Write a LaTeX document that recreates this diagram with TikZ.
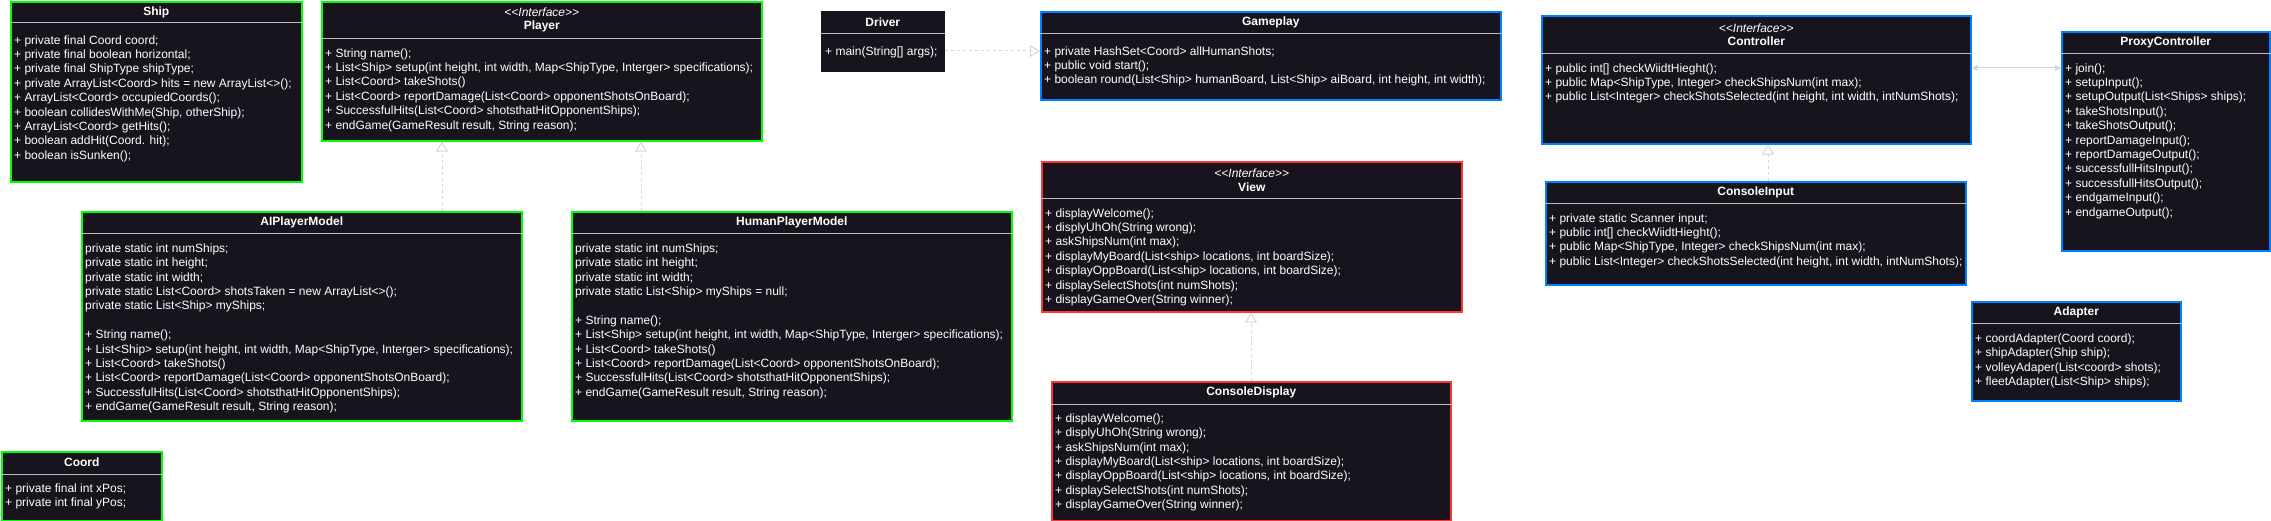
\documentclass[tikz,border=0pt]{standalone}
\usepackage{fontspec}
\usepackage{xcolor}
\usepackage{tikz}
\usetikzlibrary{calc,arrows.meta}
\newfontfamily\umlfont{Liberation Sans}
\definecolor{boxbg}{HTML}{18141D}
\definecolor{sepgray}{HTML}{BDBDBD}
\definecolor{linegray}{HTML}{D6D6D6}
\definecolor{greenLine}{HTML}{00FF00}
\definecolor{blueLine}{HTML}{007FFF}
\definecolor{redLine}{HTML}{FF3333}
\tikzset{
  classBox/.style={draw=#1, fill=boxbg, line width=1.6pt, anchor=north west, inner sep=0pt},
  boxSize/.style 2 args={minimum width=#1pt, minimum height=#2pt},
  sepLine/.style={draw=sepgray, line width=1pt},
  titleTxt/.style={text=white, font=\umlfont\fontsize{12}{13.5}\selectfont, align=center, inner sep=0pt},
  bodyTxt/.style={text=white, font=\umlfont\fontsize{12}{14.4}\selectfont, align=left, inner sep=0pt, anchor=north west},
  realize/.style={draw=linegray, dashed, line width=1pt, -{Triangle[open, length=10pt, width=12pt]}},
  assocLine/.style={draw=linegray, line width=1pt, {Triangle[length=6pt, width=6pt]}-{Triangle[length=6pt, width=6pt]}},
}
% header rule, title and member list of one class box
% (#3 = distance from the header rule to the first baseline)
\newcommand{\ClassText}[5]{%
  \draw[sepLine] ($(#1.north west)+(0,-#2pt)$) -- ($(#1.north east)+(0,-#2pt)$);
  \node[titleTxt] (#1-title) at ($(#1.north)+(0,-#2pt/2)$) {#4};
  \node[bodyTxt] (#1-body) at ($(#1.north west)+(4pt,-#2pt-#3pt+11pt)$) {\rule{0pt}{11pt}#5};
}

\begin{document}
\begin{tikzpicture}
  \fill[white] (0,0) rectangle (2271pt,-521pt);
  \useasboundingbox (0,0) rectangle (2271pt,-521pt);

  % Player side
  \node[classBox=greenLine, boxSize={291}{180}] (ship) at (10pt,-1pt) {};
  \ClassText{ship}{22}{21}{\textbf{Ship}}{%
    + private final Coord coord;\\
    + private final boolean horizontal;\\
    + private final ShipType shipType;\\
    + private ArrayList<Coord> hits = new ArrayList<>();\\
    + ArrayList<Coord> occupiedCoords();\\
    + boolean collidesWithMe(Ship, otherShip);\\
    + ArrayList<Coord> getHits();\\
    + boolean addHit(Coord. hit);\\
    + boolean isSunken();}

  \node[classBox=greenLine, boxSize={440}{139}] (player) at (321pt,-1pt) {};
  \ClassText{player}{38}{18}{\textit{<<Interface>>}\\\textbf{Player}}{%
    + String name();\\
    + List<Ship> setup(int height, int width, Map<ShipType, Interger> specifications);\\
    + List<Coord> takeShots()\\
    + List<Coord> reportDamage(List<Coord> opponentShotsOnBoard);\\
    + SuccessfulHits(List<Coord> shotsthatHitOpponentShips);\\
    + endGame(GameResult result, String reason);}

  \node[classBox=greenLine, boxSize={440}{209}] (aiPlayer) at (81pt,-211pt) {};
  \ClassText{aiPlayer}{23}{18}{\textbf{AIPlayerModel}}{%
    private static int numShips;\\
    private static int height;\\
    private static int width;\\
    private static List<Coord> shotsTaken = new ArrayList<>();\\
    private static List<Ship> myShips;\\[14.4pt]
    + String name();\\
    + List<Ship> setup(int height, int width, Map<ShipType, Interger> specifications);\\
    + List<Coord> takeShots()\\
    + List<Coord> reportDamage(List<Coord> opponentShotsOnBoard);\\
    + SuccessfulHits(List<Coord> shotsthatHitOpponentShips);\\
    + endGame(GameResult result, String reason);}

  \node[classBox=greenLine, boxSize={440}{209}] (humanPlayer) at (571pt,-211pt) {};
  \ClassText{humanPlayer}{23}{18}{\textbf{HumanPlayerModel}}{%
    private static int numShips;\\
    private static int height;\\
    private static int width;\\
    private static List<Ship> myShips = null;\\[14.4pt]
    + String name();\\
    + List<Ship> setup(int height, int width, Map<ShipType, Interger> specifications);\\
    + List<Coord> takeShots()\\
    + List<Coord> reportDamage(List<Coord> opponentShotsOnBoard);\\
    + SuccessfulHits(List<Coord> shotsthatHitOpponentShips);\\
    + endGame(GameResult result, String reason);}

  \node[classBox=greenLine, boxSize={160}{69}] (coord) at (1pt,-451pt) {};
  \ClassText{coord}{23}{18}{\textbf{Coord}}{%
    + private final int xPos;\\
    + private int final yPos;}

  % Game flow
  \node[classBox=boxbg, boxSize={122}{59}] (driver) at (821pt,-11pt) {};
  \ClassText{driver}{23}{21}{\textbf{Driver}}{+ main(String[] args);}

  \node[classBox=blueLine, boxSize={460}{88}] (gameplay) at (1040pt,-11pt) {};
  \ClassText{gameplay}{23}{21}{\textbf{Gameplay}}{%
    + private HashSet<Coord> allHumanShots;\\
    + public void start();\\
    + boolean round(List<Ship> humanBoard, List<Ship> aiBoard, int height, int width);}

  % View side
  \node[classBox=redLine, boxSize={420}{150}] (view) at (1041pt,-161pt) {};
  \ClassText{view}{38}{18}{\textit{<<Interface>>}\\\textbf{View}}{%
    + displayWelcome();\\
    + displyUhOh(String wrong);\\
    + askShipsNum(int max);\\
    + displayMyBoard(List<ship> locations, int boardSize);\\
    + displayOppBoard(List<ship> locations, int boardSize);\\
    + displaySelectShots(int numShots);\\
    + displayGameOver(String winner);}

  \node[classBox=redLine, boxSize={399}{139}] (consoleDisplay) at (1051pt,-381pt) {};
  \ClassText{consoleDisplay}{23}{18}{\textbf{ConsoleDisplay}}{%
    + displayWelcome();\\
    + displyUhOh(String wrong);\\
    + askShipsNum(int max);\\
    + displayMyBoard(List<ship> locations, int boardSize);\\
    + displayOppBoard(List<ship> locations, int boardSize);\\
    + displaySelectShots(int numShots);\\
    + displayGameOver(String winner);}

  % Controller side
  \node[classBox=blueLine, boxSize={429}{128}] (controller) at (1541pt,-15pt) {};
  \ClassText{controller}{39}{18}{\textit{<<Interface>>}\\\textbf{Controller}}{%
    + public int[] checkWiidtHieght();\\
    + public Map<ShipType, Integer> checkShipsNum(int max);\\
    + public List<Integer> checkShotsSelected(int height, int width, intNumShots);}

  \node[classBox=blueLine, boxSize={420}{103}] (consoleInput) at (1545pt,-181pt) {};
  \ClassText{consoleInput}{23}{18}{\textbf{ConsoleInput}}{%
    + private static Scanner input;\\
    + public int[] checkWiidtHieght();\\
    + public Map<ShipType, Integer> checkShipsNum(int max);\\
    + public List<Integer> checkShotsSelected(int height, int width, intNumShots);}

  \node[classBox=blueLine, boxSize={208}{219}] (proxyController) at (2061pt,-31pt) {};
  \ClassText{proxyController}{23}{18}{\textbf{ProxyController}}{%
    + join();\\
    + setupInput();\\
    + setupOutput(List<Ships> ships);\\
    + takeShotsInput();\\
    + takeShotsOutput();\\
    + reportDamageInput();\\
    + reportDamageOutput();\\
    + successfullHitsInput();\\
    + successfullHitsOutput();\\
    + endgameInput();\\
    + endgameOutput();}

  \node[classBox=blueLine, boxSize={209}{99}] (adapter) at (1971pt,-301pt) {};
  \ClassText{adapter}{23}{18}{\textbf{Adapter}}{%
    + coordAdapter(Coord coord);\\
    + shipAdapter(Ship ship);\\
    + volleyAdaper(List<coord> shots);\\
    + fleetAdapter(List<Ship> ships);}

  % Connectors
  \coordinate (aiLink) at (442pt,0);
  \coordinate (humanLink) at (641pt,0);
  \coordinate (viewLink) at (1251pt,0);
  \coordinate (inputLink) at (1768pt,0);
  \coordinate (driverLink) at (0,-51pt);
  \coordinate (proxyLink) at (0,-68pt);
  \draw[realize] (aiPlayer.north -| aiLink) -- (player.south -| aiLink);
  \draw[realize] (humanPlayer.north -| humanLink) -- (player.south -| humanLink);
  \draw[realize] (consoleDisplay.north -| viewLink) -- (view.south -| viewLink);
  \draw[realize] (consoleInput.north -| inputLink) -- (controller.south -| inputLink);
  \draw[realize] (driver.east |- driverLink) -- (gameplay.west |- driverLink);
  \draw[assocLine] (controller.east |- proxyLink) -- (proxyController.west |- proxyLink);
\end{tikzpicture}
\end{document}
